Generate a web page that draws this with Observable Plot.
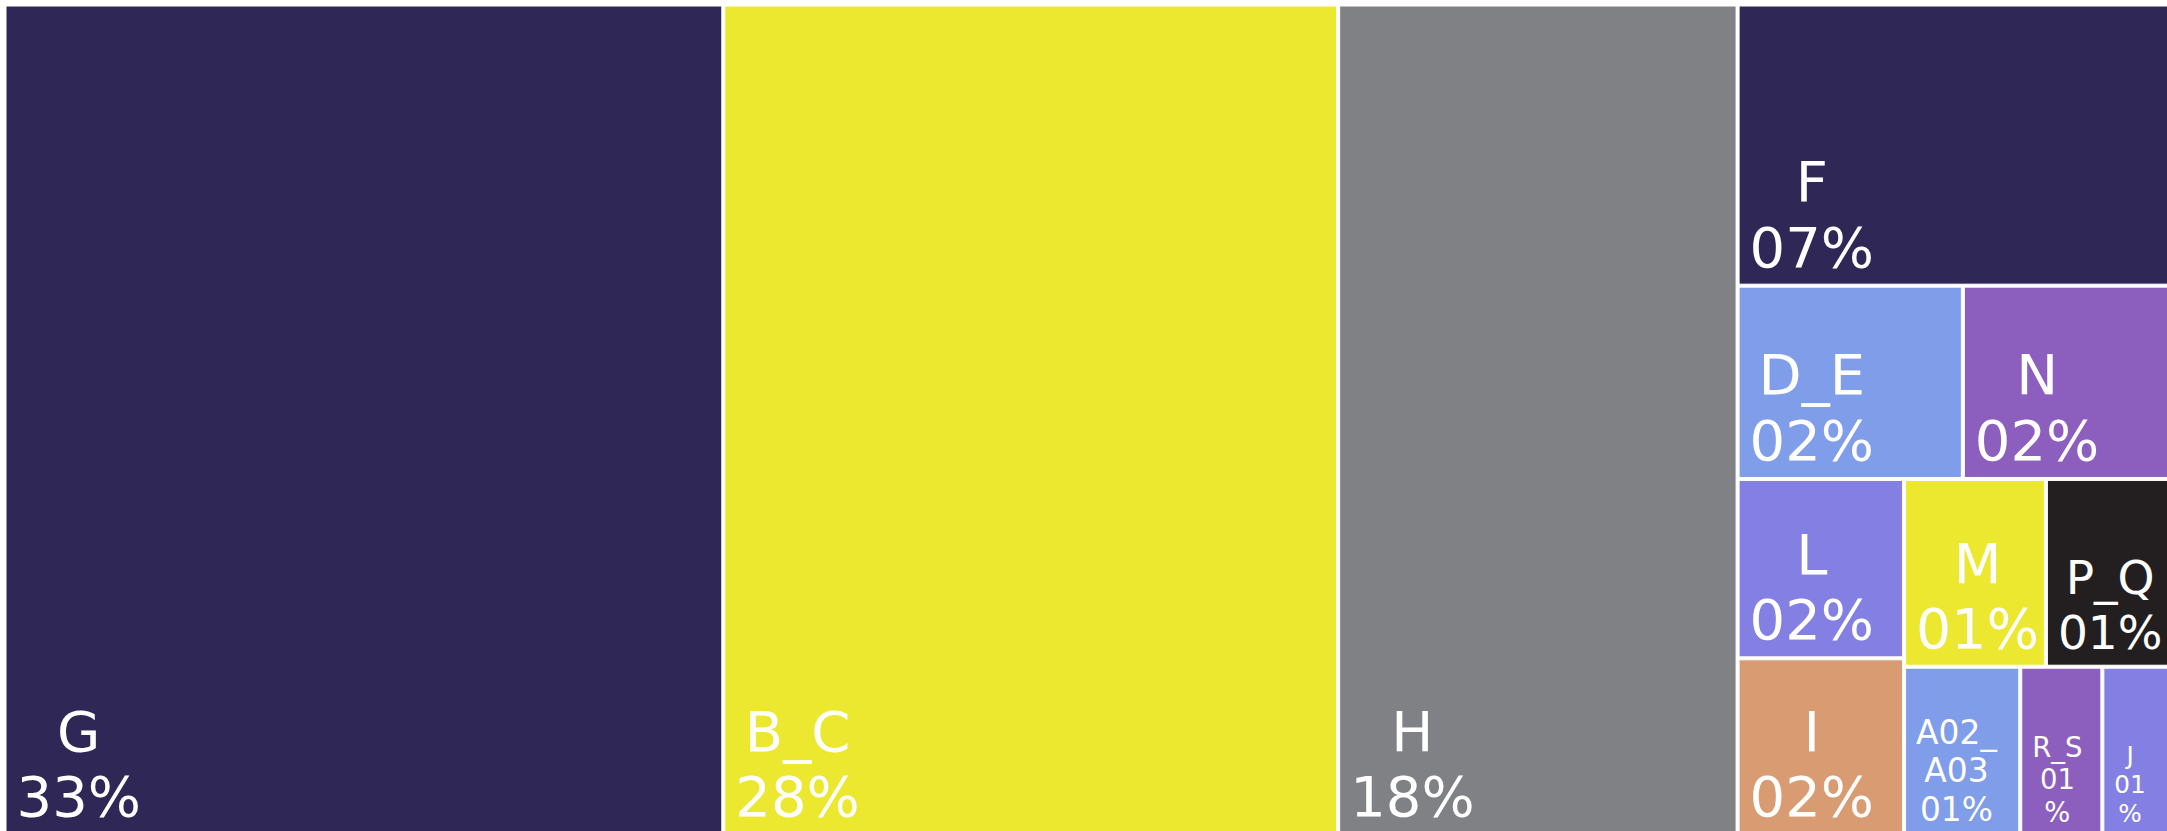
<!DOCTYPE html>
<html><head><meta charset="utf-8">
<script src="https://cdn.jsdelivr.net/npm/d3@7"></script>
<script src="https://cdn.jsdelivr.net/npm/@observablehq/plot@0.6"></script>
<style>html,body{margin:0;padding:0;background:#fff;overflow:hidden;width:2167px;height:831px}</style>
</head><body><div id="chart"></div>
<script>
// ---- data (shares of total) ----
const categories = ["G", "B_C", "H", "F", "D_E", "N", "L", "I", "M", "P_Q", "A02_A03", "R_S", "J"];
const values     = [33.2, 28.4, 18.45, 6.75, 2.42, 2.22, 1.66, 1.64, 1.48, 1.29, 1.09, 0.77, 0.63];
// nesting used by the treemap tiling
const groups     = ["", "", "", "rest", "rest/DN", "rest/DN", "rest/blk/LI", "rest/blk/LI",
                    "rest/blk/R/MP", "rest/blk/R/MP", "rest/blk/R/ARJ", "rest/blk/R/ARJ", "rest/blk/R/ARJ"];
const colors     = ["#2f2856", "#ece830", "#808184", "#2f2856", "#7f9de8", "#8c5ebe", "#8480e3",
                    "#d99b72", "#ece830", "#231f20", "#7f9de8", "#8c5ebe", "#8480e3"];

const WIDTH = 2167, HEIGHT = 831;
const TX0 = 6, TY0 = 6, TW = 2162, TH = 828, GAP = 3;
const FONT = "DejaVu Sans";

// ---- hierarchy ----
const rootData = {name: "root", children: []};
categories.forEach((c, i) => {
  let node = rootData;
  if (groups[i]) for (const g of groups[i].split("/")) {
    let child = node.children.find(d => d.name === g && d.children);
    if (!child) { child = {name: g, children: []}; node.children.push(child); }
    node = child;
  }
  node.children.push({name: c, value: values[i]});
});
const tile = (node, x0, y0, x1, y1) =>
  (x1 - x0 > y1 - y0 ? d3.treemapDice : d3.treemapSlice)(node, x0, y0, x1, y1);
const root = d3.treemap().tile(tile).size([TW, TH]).paddingInner(GAP)
  (d3.hierarchy(rootData).sum(d => d.value ?? 0));
const total = d3.sum(values);
const leaves = root.leaves().map(l => ({
  name: l.data.name, x1: l.x0, x2: l.x1, y1: l.y0, y2: l.y1, share: l.data.value / total
}));

// ---- label fitting ----
const ctx = document.createElement("canvas").getContext("2d");
const measure = (s, fs) => { ctx.font = `${fs}px "${FONT}"`; return ctx.measureText(s).width; };
const MAXFS = 56, PAD = 10;
function wrap(tokens, fs, avail) {
  const lines = [];
  let cur = "";
  for (const t of tokens) {
    if (cur && measure(cur + t, fs) > avail) { lines.push(cur); cur = t; }
    else cur += t;
  }
  if (cur) lines.push(cur);
  return lines;
}
const labels = leaves.map(d => {
  const w = d.x2 - d.x1, h = d.y2 - d.y1;
  const pct = String(Math.round(d.share * 100)).padStart(2, "0") + "%";
  let fs = Math.min(MAXFS, (w - 16) / Math.max(measure(d.name, 1), measure(pct, 1)));
  let lines = [d.name, pct];
  if (fs < 35) {
    const avail = w - 2 * PAD;
    fs = Math.min(MAXFS, 0.24 * Math.sqrt(w * h));
    lines = [...wrap(d.name.match(/[^_]+_?|_/g), fs, avail), ...wrap(pct.match(/\d+|%/g), fs, avail)];
    const widest = Math.max(...lines.map(s => measure(s, 1)));
    fs = Math.min(fs, avail / widest);
  }
  const blockW = Math.max(...lines.map(s => measure(s, fs)));
  return {x: d.x1 + PAD + blockW / 2, y: d.y2 - (8 + 0.18 * fs), text: lines.join("\n"), fs};
});

const chart = Plot.plot({
  width: WIDTH, height: HEIGHT, margin: 0,
  x: {domain: [0, TW], range: [TX0, TX0 + TW], axis: null},
  y: {domain: [0, TH], range: [TY0, TY0 + TH], axis: null},
  color: {domain: categories, range: colors},
  style: {background: "#fff"},
  marks: [
    Plot.rect(leaves, {x1: "x1", x2: "x2", y1: "y1", y2: "y2", fill: "name", stroke: "white", strokeWidth: 1}),
    Plot.text(labels, {x: "x", y: "y", text: "text", fontSize: "fs", fill: "white",
      textAnchor: "middle", lineAnchor: "bottom", lineHeight: 1.17, fontFamily: FONT})
  ]
});
document.getElementById("chart").appendChild(chart);
</script>
</body></html>
